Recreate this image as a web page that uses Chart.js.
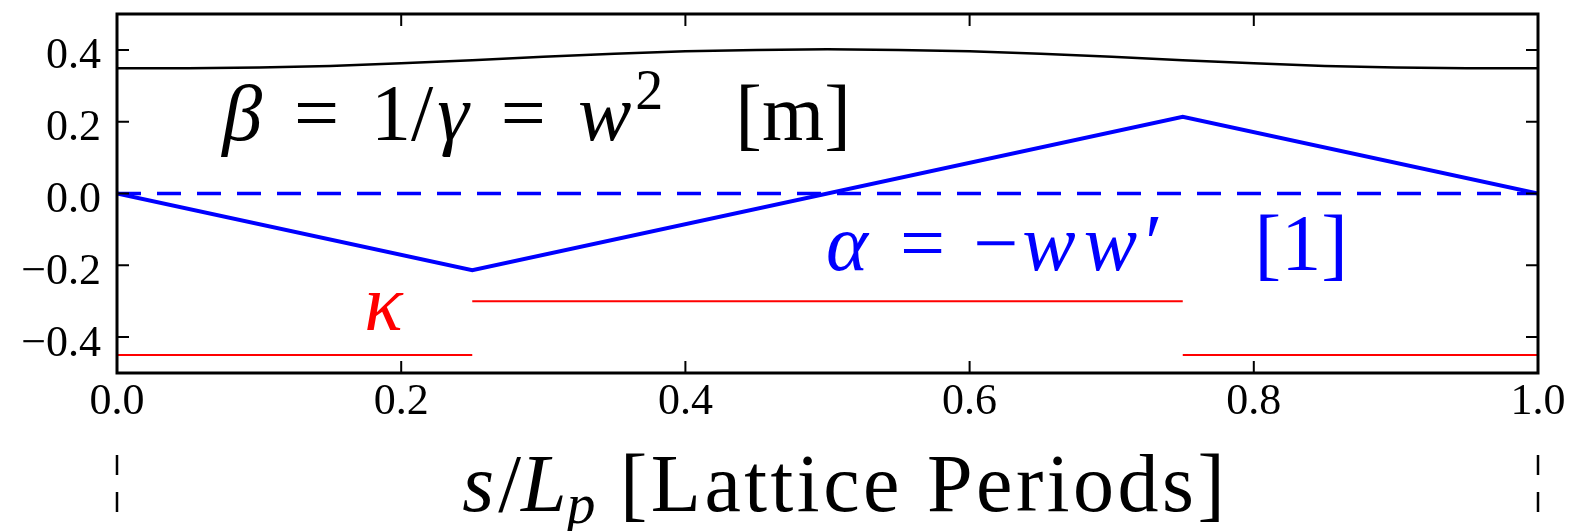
<!DOCTYPE html>
<html>
<head>
<meta charset="utf-8">
<script src="https://cdn.jsdelivr.net/npm/chart.js@4.4.1/dist/chart.umd.min.js"></script>
<style>
  html, body { margin: 0; padding: 0; background: #fff; }
  canvas { display: block; }
</style>
</head>
<body>
<canvas id="latticeChart" width="1571" height="531"></canvas>
<script>
  // s / L_p positions and the lattice functions
  const betaS = [0, 0.05, 0.1, 0.15, 0.2, 0.25, 0.3, 0.35, 0.4, 0.45, 0.5,
    0.55, 0.6, 0.65, 0.7, 0.75, 0.8, 0.85, 0.9, 0.95, 1.0];
  const betaVals = [0.349, 0.349, 0.351, 0.355, 0.363, 0.371, 0.381, 0.389, 0.396, 0.400, 0.402,
    0.400, 0.396, 0.389, 0.381, 0.371, 0.363, 0.355, 0.351, 0.349, 0.349];

  const alphaS = [0, 0.25, 0.75, 1.0];
  const alphaVals = [0, -0.214, 0.214, 0];

  const zeroS = [0, 1.0];
  const zeroVals = [0, 0];

  const kappaS = [0, 0.25, 0.25, 0.25, 0.75, 0.75, 0.75, 1.0];
  const kappaVals = [-0.45, -0.45, null, -0.3, -0.3, null, -0.45, -0.45];

  const xTickValues = [0, 0.2, 0.4, 0.6, 0.8, 1.0];
  const xTickLabels = ["0.0", "0.2", "0.4", "0.6", "0.8", "1.0"];
  const yTickValues = [0.4, 0.2, 0, -0.2, -0.4];
  const yTickLabels = ["0.4", "0.2", "0.0", "\u22120.2", "\u22120.4"];

  const SERIF = "'Liberation Serif', 'Times New Roman', serif";
  Chart.defaults.font.family = SERIF;
  Chart.defaults.font.size = 44;

  function toPoints(xs, ys) {
    return xs.map((x, i) => ({ x, y: ys[i] }));
  }

  function labelFor(values, labels, v) {
    const idx = values.findIndex((t) => Math.abs(t - v) < 1e-6);
    return idx >= 0 ? labels[idx] : null;
  }

  // draws a run of text pieces (italic / roman / sup / sub) one after another
  function drawRich(ctx, x, y, size, color, parts) {
    let cx = x;
    ctx.save();
    ctx.fillStyle = color;
    ctx.textBaseline = "alphabetic";
    ctx.textAlign = "left";
    parts.forEach((p) => {
      const sz = size * (p.scale || 1);
      ctx.font = `${p.it ? "italic " : ""}${sz}px ${SERIF}`;
      ctx.letterSpacing = `${p.ls || 0}px`;
      cx += (p.gap || 0) * size;
      ctx.fillText(p.t, cx, y + (p.dy || 0) * size);
      cx += ctx.measureText(p.t).width;
    });
    ctx.restore();
  }

  function stripPadding(s) {
    s.paddingTop = 0;
    s.paddingBottom = 0;
    s.paddingLeft = 0;
    s.paddingRight = 0;
  }

  const framePlugin = {
    id: "frameAndText",
    afterDraw(chart) {
      const { ctx, chartArea: a, scales } = chart;
      const xs = scales.x;
      const ys = scales.y;

      ctx.save();
      ctx.strokeStyle = "#000";
      ctx.lineWidth = 2;
      // inward tick marks on all four sides
      xs.ticks.forEach((t) => {
        const px = xs.getPixelForValue(t.value);
        const len = labelFor(xTickValues, xTickLabels, t.value) ? 12 : 8;
        ctx.beginPath();
        ctx.moveTo(px, a.bottom); ctx.lineTo(px, a.bottom - len);
        ctx.moveTo(px, a.top); ctx.lineTo(px, a.top + len);
        ctx.stroke();
      });
      ys.ticks.forEach((t) => {
        const py = ys.getPixelForValue(t.value);
        const len = labelFor(yTickValues, yTickLabels, t.value) !== null ? 12 : 8;
        ctx.beginPath();
        ctx.moveTo(a.left, py); ctx.lineTo(a.left + len, py);
        ctx.moveTo(a.right, py); ctx.lineTo(a.right - len, py);
        ctx.stroke();
      });

      ctx.lineWidth = 3;
      ctx.strokeRect(a.left, a.top, a.right - a.left, a.bottom - a.top);

      // dashed markers under the period ends
      ctx.lineWidth = 2.5;
      ctx.setLineDash([20, 17]);
      [0, 1].forEach((v) => {
        const px = xs.getPixelForValue(v);
        ctx.beginPath();
        ctx.moveTo(px, a.bottom + 82);
        ctx.lineTo(px, a.bottom + 145);
        ctx.stroke();
      });
      ctx.restore();

      drawRich(ctx, xs.getPixelForValue(0.074), ys.getPixelForValue(0.15), 80, "#000", [
        { t: "\u03b2", it: true },
        { t: "=", gap: 0.4 },
        { t: "1", gap: 0.4 },
        { t: "/" },
        { t: "\u03b3", it: true, gap: 0.05 },
        { t: "=", gap: 0.4 },
        { t: "w", it: true, gap: 0.4 },
        { t: "2", scale: 0.7, dy: -0.38, gap: 0.05 },
        { t: "[m]", gap: 0.9 }
      ]);

      drawRich(ctx, xs.getPixelForValue(0.499), ys.getPixelForValue(-0.213), 80, "#0000ff", [
        { t: "\u03b1", it: true },
        { t: "=", gap: 0.4 },
        { t: "\u2212", gap: 0.35 },
        { t: "ww", it: true, gap: 0.05, ls: 8 },
        { t: "\u2032", gap: 0.0 },
        { t: "[1]", gap: 1.15 }
      ]);

      drawRich(ctx, xs.getPixelForValue(0.174), ys.getPixelForValue(-0.38), 80, "#ff0000", [
        { t: "\u03ba", it: true }
      ]);

      drawRich(ctx, xs.getPixelForValue(0.243), a.bottom + 138, 82, "#000", [
        { t: "s", it: true },
        { t: "/", gap: 0.05 },
        { t: "L", it: true },
        { t: "p", it: true, scale: 0.7, dy: 0.15 },
        { t: "[Lattice Periods]", gap: 0.3, ls: 3.5 }
      ]);
    }
  };

  const chart = new Chart(document.getElementById("latticeChart"), {
    type: "line",
    data: {
      datasets: [
        {
          label: "kappa",
          data: toPoints(kappaS, kappaVals),
          borderColor: "#ff0000",
          borderWidth: 2,
          pointRadius: 0,
          spanGaps: false
        },
        {
          label: "zero",
          data: toPoints(zeroS, zeroVals),
          borderColor: "#0000ff",
          borderWidth: 3.5,
          borderDash: [24, 16],
          pointRadius: 0
        },
        {
          label: "alpha",
          data: toPoints(alphaS, alphaVals),
          borderColor: "#0000ff",
          borderWidth: 4,
          pointRadius: 0
        },
        {
          label: "beta",
          data: toPoints(betaS, betaVals),
          borderColor: "#000",
          borderWidth: 2.5,
          pointRadius: 0
        }
      ]
    },
    options: {
      responsive: false,
      devicePixelRatio: 1,
      animation: false,
      layout: { padding: { top: 14, right: 33, left: 0, bottom: 0 } },
      plugins: {
        legend: { display: false },
        tooltip: { enabled: false }
      },
      scales: {
        x: {
          type: "linear",
          min: 0,
          max: 1,
          afterFit: (s) => { s.height = 158; stripPadding(s); },
          grid: { display: false, drawTicks: false },
          border: { display: false },
          ticks: {
            stepSize: 0.05,
            autoSkip: false,
            maxRotation: 0,
            padding: 3,
            color: "#000",
            font: { family: SERIF, size: 44 },
            callback: (v) => labelFor(xTickValues, xTickLabels, v)
          }
        },
        y: {
          type: "linear",
          min: -0.5,
          max: 0.5,
          afterFit: (s) => { s.width = 117; stripPadding(s); },
          grid: { display: false, drawTicks: false },
          border: { display: false },
          ticks: {
            stepSize: 0.05,
            autoSkip: false,
            padding: 16,
            labelOffset: 7,
            color: "#000",
            font: { family: SERIF, size: 44 },
            callback: (v) => labelFor(yTickValues, yTickLabels, v)
          }
        }
      }
    },
    plugins: [framePlugin]
  });
</script>
</body>
</html>
